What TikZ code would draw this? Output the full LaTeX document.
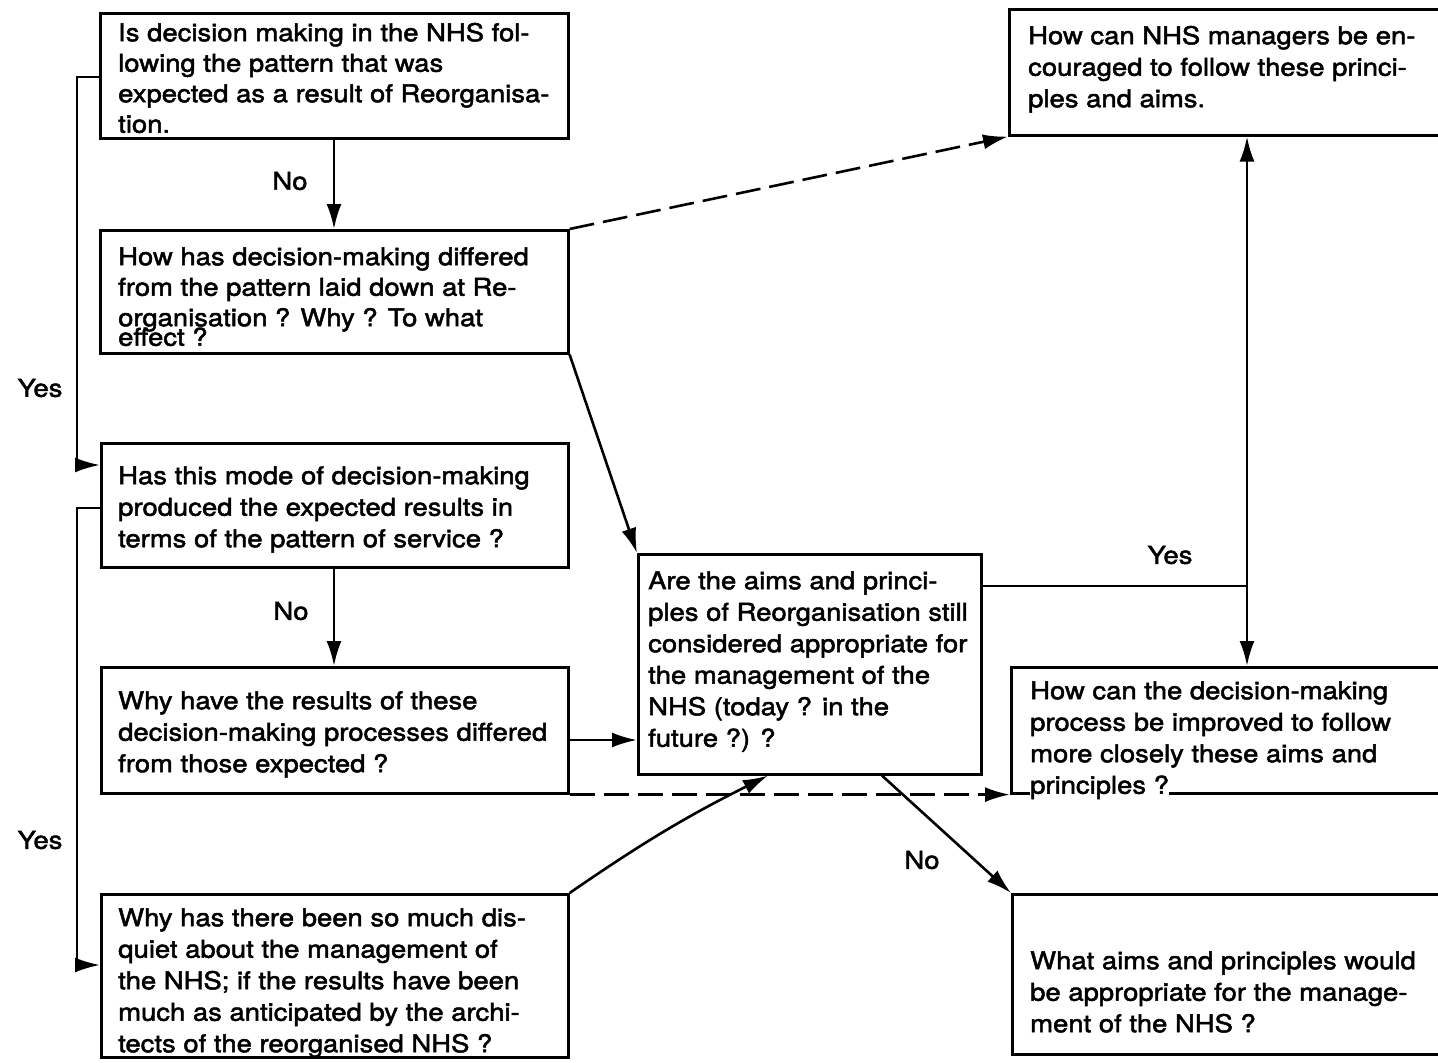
\documentclass[tikz,border=0pt]{standalone}
\usepackage{fontspec}
\setmainfont{TeX Gyre Heros}[FakeStretch=1.12,FakeBold=2]
\usetikzlibrary{arrows.meta}
\newcommand{\firstln}{\rule{0pt}{20pt}}
\begin{document}
\begin{tikzpicture}[x=1pt,y=-1pt,
  box/.style={draw, line width=2.6pt, inner sep=0pt, anchor=north west},
  txt/.style={anchor=north west, inner sep=0pt, align=left, font=\fontsize{24.5}{31.5}\selectfont},
  tighttxt/.style={txt, font=\fontsize{24.5}{30.5}\selectfont},
  lbl/.style={inner sep=0pt, font=\fontsize{24.5}{31.5}\selectfont},
  tip/.style={-{Latex[length=25pt,width=15pt]}},
  arr/.style={line width=2.6pt, tip},
  darr/.style={arr, dash pattern=on 25pt off 9pt},
]
\useasboundingbox (0,0) rectangle (1438,1063);
\fill[white] (0,0) rectangle (1438,1063);
\clip (0,0) rectangle (1438,1063);

% boxes
\node[box, minimum width=468pt, minimum height=125pt] (b1) at (99,12) {};
\node[box, minimum width=468pt, minimum height=123pt] (b2) at (99,229) {};
\node[box, minimum width=467pt, minimum height=124pt] (b3) at (100,442) {};
\node[box, minimum width=467pt, minimum height=126pt] (b4) at (100,666) {};
\node[box, minimum width=467pt, minimum height=163pt] (b5) at (100,893) {};
\node[box, minimum width=343pt, minimum height=220pt] (bc) at (637,553) {};
\node[box, minimum width=450pt, minimum height=126pt] (b7) at (1008,8) {};
\node[box, minimum width=450pt, minimum height=126pt] (b8) at (1010,666) {};
\node[box, minimum width=450pt, minimum height=160pt] (b9) at (1011,893) {};

% texts
\node[tighttxt] (t1) at (118,21) {\firstln Is decision making in the NHS fol-\\lowing the pattern that was\\expected as a result of Reorganisa-\\tion.};
\node[tighttxt] (t2) at (118,245) {\firstln How has decision-making differed\\from the pattern laid down at Re-\\organisation ? Why ? To what\\[-11pt]effect ?};
\node[txt] (t3) at (118,464) {\firstln Has this mode of decision-making\\produced the expected results in\\terms of the pattern of service ?};
\node[txt] (t4) at (118,689) {\firstln Why have the results of these\\decision-making processes differed\\from those expected ?};
\node[txt] (t5) at (118,906) {\firstln Why has there been so much dis-\\quiet about the management of\\the NHS; if the results have been\\much as anticipated by the archi-\\tects of the reorganised NHS ?};
\node[txt] (tc) at (648,569) {\firstln Are the aims and princi-\\ples of Reorganisation still\\considered appropriate for\\the management of the\\NHS (today ? in the\\future ?) ?};
\node[txt] (t7) at (1028,24) {\firstln How can NHS managers be en-\\couraged to follow these princi-\\ples and aims.};
\node[txt] (t8) at (1030,679) {\firstln How can the decision-making\\process be improved to follow\\more closely these aims and\\{\setlength{\fboxsep}{0pt}\colorbox{white}{principles ?\strut}}};
\node[txt] (t9) at (1030,949) {\firstln What aims and principles would\\be appropriate for the manage-\\ment of the NHS ?};

% helper coordinates
\coordinate (xa) at (334,0);
\coordinate (ya) at (77,77);
\coordinate (yb) at (77,465);
\coordinate (yc) at (77,508);
\coordinate (yd) at (77,965);
\coordinate (ye) at (0,740);
\coordinate (xb) at (768,0);
\coordinate (xc) at (882,0);
\coordinate (xd) at (1247,0);
\coordinate (yf) at (0,586);

% connectors
\draw[arr] (b1.south -| xa) -- (b2.north -| xa);
\node[lbl] (no1) at (290,181) {No};
\draw[arr] (b1.west |- ya) -- (ya) -- (yb) -- (b3.west |- yb);
\node[lbl] (yes1) at (40,388) {Yes};
\draw[arr] (b3.south -| xa) -- (b4.north -| xa);
\node[lbl] (no2) at (291,611) {No};
\draw[arr] (b3.west |- yc) -- (yc) -- (yd) -- (b5.west |- yd);
\node[lbl] (yes2) at (40,840) {Yes};
\draw[darr] (b2.north east) -- (b7.south west);
\draw[arr] (b2.south east) -- (bc.north west);
\draw[arr] (b4.east |- ye) -- (bc.west |- ye);
\draw[darr] (b4.south east) -- (b8.south west);
\draw[arr] (b5.north east) to[bend left=4] (bc.south -| xb);
\draw[arr] (bc.south -| xc) -- (b9.north west);
\node[lbl] (no3) at (922,860) {No};
\draw[line width=2.6pt] (bc.east |- yf) -- (xd |- yf);
\node[lbl] (yes3) at (1170,555) {Yes};
\draw[line width=2.6pt, {Latex[length=25pt,width=15pt]}-{Latex[length=25pt,width=15pt]}] (b7.south -| xd) -- (b8.north -| xd);
\end{tikzpicture}
\end{document}
